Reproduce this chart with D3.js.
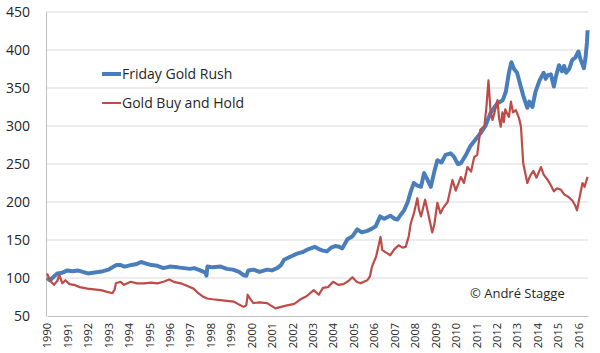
<!DOCTYPE html>
<html>
<head>
<meta charset="utf-8">
<script src="https://cdn.jsdelivr.net/npm/d3@7"></script>
<style>
  body { margin: 0; background: #fff; }
  text { font-family: "Open Sans", sans-serif; fill: #262626; }
</style>
</head>
<body>
<div id="chart"></div>
<script>
// Friday Gold Rush (decimal year, index value)
const rushYears = [1990.0,1990.15,1990.3,1990.5,1990.75,1991.0,1991.25,1991.5,1991.75,1992.0,1992.25,1992.5,1992.75,1993.0,1993.2,1993.4,1993.6,1993.8,1994.1,1994.35,1994.6,1994.85,1995.1,1995.4,1995.7,1996.0,1996.4,1996.7,1997.0,1997.2,1997.5,1997.75,1997.8,1997.85,1998.1,1998.5,1998.8,1999.1,1999.4,1999.6,1999.75,1999.85,2000.1,2000.4,2000.77,2001.0,2001.26,2001.45,2001.6,2001.9,2002.24,2002.5,2002.7,2002.9,2003.1,2003.3,2003.5,2003.7,2003.9,2004.1,2004.3,2004.45,2004.7,2004.95,2005.18,2005.4,2005.67,2005.9,2006.08,2006.3,2006.5,2006.8,2007.0,2007.15,2007.3,2007.47,2007.65,2007.8,2007.95,2008.1,2008.3,2008.45,2008.6,2008.78,2008.95,2009.1,2009.3,2009.5,2009.75,2009.9,2010.1,2010.25,2010.5,2010.7,2010.9,2011.2,2011.45,2011.7,2011.9,2012.04,2012.3,2012.45,2012.6,2012.72,2012.85,2013.0,2013.15,2013.3,2013.5,2013.6,2013.75,2013.9,2014.1,2014.3,2014.4,2014.5,2014.65,2014.8,2014.9,2015.05,2015.2,2015.3,2015.4,2015.55,2015.7,2015.85,2016.0,2016.1,2016.27,2016.35,2016.42,2016.45];
const rushValues = [100,97,101,106,107,110,109,110,108,106,107,108,109,111,114,117,117,115,117,118,121,119,117,116,113,115,114,113,112,113,110,107,103,115,114,115,112,111,108,104,103,110,111,108,111,110,113,117,124,128,132,134,137,139,141,138,136,135,140,142,141,139,151,155,164,160,162,165,168,181,178,182,178,177,183,189,200,214,225,222,220,238,230,220,240,255,252,262,264,260,250,251,262,273,280,290,300,317,325,330,334,345,370,384,375,370,355,340,324,332,325,345,360,370,362,367,368,352,365,380,372,379,370,375,387,390,398,388,376,390,410,426];

// Gold Buy and Hold
const holdYears = [1990.0,1990.1,1990.2,1990.34,1990.5,1990.6,1990.75,1990.9,1991.1,1991.32,1991.6,1991.98,1992.3,1992.63,1992.9,1993.2,1993.3,1993.37,1993.6,1993.77,1994.1,1994.4,1994.75,1995.1,1995.4,1995.7,1995.98,1996.2,1996.55,1996.9,1997.17,1997.4,1997.6,1997.83,1998.1,1998.48,1998.8,1999.13,1999.4,1999.62,1999.75,1999.82,1999.95,2000.1,2000.4,2000.77,2001.0,2001.18,2001.45,2001.75,2002.1,2002.4,2002.7,2003.05,2003.3,2003.5,2003.75,2004.0,2004.25,2004.5,2004.75,2004.94,2005.15,2005.34,2005.67,2005.8,2005.9,2006.1,2006.32,2006.4,2006.55,2006.8,2007.0,2007.2,2007.4,2007.55,2007.7,2007.8,2007.95,2008.12,2008.2,2008.3,2008.5,2008.65,2008.85,2008.95,2009.1,2009.25,2009.4,2009.6,2009.84,2010.0,2010.25,2010.4,2010.57,2010.75,2010.9,2011.05,2011.2,2011.4,2011.5,2011.6,2011.7,2011.8,2011.9,2012.04,2012.12,2012.2,2012.28,2012.35,2012.42,2012.5,2012.6,2012.7,2012.8,2012.94,2013.1,2013.19,2013.3,2013.5,2013.65,2013.8,2013.95,2014.17,2014.3,2014.5,2014.65,2014.8,2014.95,2015.15,2015.3,2015.5,2015.7,2015.85,2015.93,2016.05,2016.2,2016.3,2016.45];
const holdValues = [106,100,95,91,96,104,93,97,92,91,88,86,85,84,82,80,84,93,95,91,95,93,93,94,93,95,98,95,93,89,86,80,76,73,72,71,70,69,65,62,64,78,72,67,68,67,63,60,62,64,66,72,76,84,78,87,88,95,91,92,96,101,95,93,97,102,115,128,154,137,134,130,138,143,140,141,155,172,185,205,190,181,203,185,160,170,199,185,193,200,229,215,233,225,246,240,259,262,295,300,325,360,320,308,318,334,310,299,318,305,322,317,312,332,318,321,310,299,251,225,235,241,232,246,236,229,222,214,218,216,210,207,202,195,189,205,225,220,233];

const yearTicks = d3.range(1990, 2017);
const valueTicks = d3.range(50, 451, 50);

const seriesNames = ["Friday Gold Rush", "Gold Buy and Hold"];

const W = 600, H = 353;
const margin = {top: 12, right: 12, bottom: 37, left: 46};
const width = W - margin.left - margin.right,
      height = H - margin.top - margin.bottom;

const svg = d3.select("#chart").append("svg")
    .attr("width", W)
    .attr("height", H);

const g = svg.append("g")
    .attr("transform", "translate(" + margin.left + "," + margin.top + ")");

const x = d3.scaleLinear()
    .domain([1990, 2016.47])
    .range([1, width]);
const y = d3.scaleLinear()
    .domain([50, 450])
    .range([height, 0]);

// gridlines
g.selectAll(".grid")
    .data(valueTicks.slice(1))
    .enter().append("line")
    .attr("x1", 0)
    .attr("x2", width)
    .attr("y1", d => y(d))
    .attr("y2", d => y(d))
    .style("stroke", "#d9d9d9")
    .style("stroke-width", 1);

// y axis
const yAxis = g.append("g")
    .call(d3.axisLeft(y).tickValues(valueTicks).tickSize(0).tickPadding(16));
yAxis.select(".domain").style("stroke", "#bfbfbf");
yAxis.selectAll("text").style("font-size", "14px").attr("dy", "0.35em");

// x axis
const xAxis = g.append("g")
    .attr("transform", "translate(0," + height + ")")
    .call(d3.axisBottom(x).tickValues(yearTicks).tickFormat(d3.format("d")).tickSize(0));
xAxis.select(".domain").style("stroke", "#bfbfbf");
xAxis.selectAll("text")
    .style("font-size", "11px")
    .style("text-anchor", "end")
    .attr("transform", "rotate(-90)")
    .attr("x", -7)
    .attr("y", 0)
    .attr("dy", "0.35em");

const line = d3.line()
    .x(d => x(d[0]))
    .y(d => y(d[1]));

const hold = d3.zip(holdYears, holdValues);
const rush = d3.zip(rushYears, rushValues);

g.append("path")
    .datum(rush)
    .attr("d", line)
    .style("fill", "none")
    .style("stroke", "#4a7ebb")
    .style("stroke-width", 4)
    .style("stroke-linejoin", "round");

g.append("path")
    .datum(hold)
    .attr("d", line)
    .style("fill", "none")
    .style("stroke", "#be4b48")
    .style("stroke-width", 2.2)
    .style("stroke-linejoin", "round");

// legend
const legend = svg.selectAll(".legend")
    .data(seriesNames)
    .enter().append("g")
    .attr("class", "legend")
    .attr("transform", (d, i) => "translate(102," + (74 + i * 29) + ")");

legend.append("line")
    .attr("x1", 0)
    .attr("x2", 19)
    .style("stroke", (d, i) => i === 0 ? "#4a7ebb" : "#be4b48")
    .style("stroke-width", (d, i) => i === 0 ? 4 : 2);

legend.append("text")
    .attr("x", 20)
    .attr("dy", "0.35em")
    .style("font-size", "14px")
    .text(d => d);

svg.append("text")
    .attr("x", 470)
    .attr("y", 293)
    .attr("dy", "0.35em")
    .style("font-size", "13px")
    .text("© André Stagge");
</script>
</body>
</html>
